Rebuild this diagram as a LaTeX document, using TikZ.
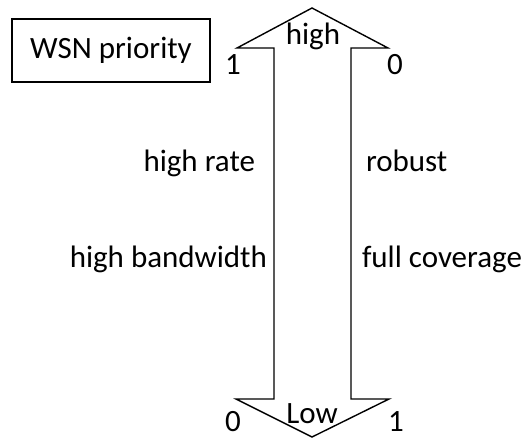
\documentclass[tikz,border=0pt]{standalone}
\usepackage{fontspec}
\setmainfont{Carlito}
\begin{document}
\begin{tikzpicture}[x=1pt,y=-1pt,
  lbl/.style={inner sep=0pt,outer sep=0pt,font=\fontsize{31}{36}\selectfont,text=black},
  outline/.style={draw=black,line width=1.4pt,line join=miter}]
\useasboundingbox (0,0) rectangle (532,438);

% legend box
\node[lbl,draw=black,line width=1.4pt,minimum width=198pt,minimum height=63pt] (wsn) at (111,50.5) {WSN priority};

% double-headed priority arrow
\coordinate (tl) at (237,48);
\coordinate (tt) at (312,8);
\coordinate (tr) at (388,48);
\coordinate (bl) at (236,399);
\coordinate (bb) at (312,437);
\coordinate (br) at (389,399);
\draw[outline] (tl) -- (tt) -- (tr) -- (351,48) -- (351,399) -- (br) -- (bb)
  -- (bl) -- (274,399) -- (274,48) -- cycle;

% labels at the heads
\node[lbl,anchor=base] (high) at (313,45) {high};
\node[lbl,anchor=base] (t1) at (233,75) {1};
\node[lbl,anchor=base] (t0) at (395,75) {0};
\node[lbl,anchor=base] (low) at (312,423) {Low};
\node[lbl,anchor=base] (b0) at (233,431) {0};
\node[lbl,anchor=base] (b1) at (396,431) {1};

% properties on each side
\node[lbl,anchor=base east] (rate) at (255,172) {high rate};
\node[lbl,anchor=base east] (bw) at (267,267) {high bandwidth};
\node[lbl,anchor=base west] (rob) at (366,172) {robust};
\node[lbl,anchor=base west] (cov) at (362,267) {full coverage};
\end{tikzpicture}
\end{document}
